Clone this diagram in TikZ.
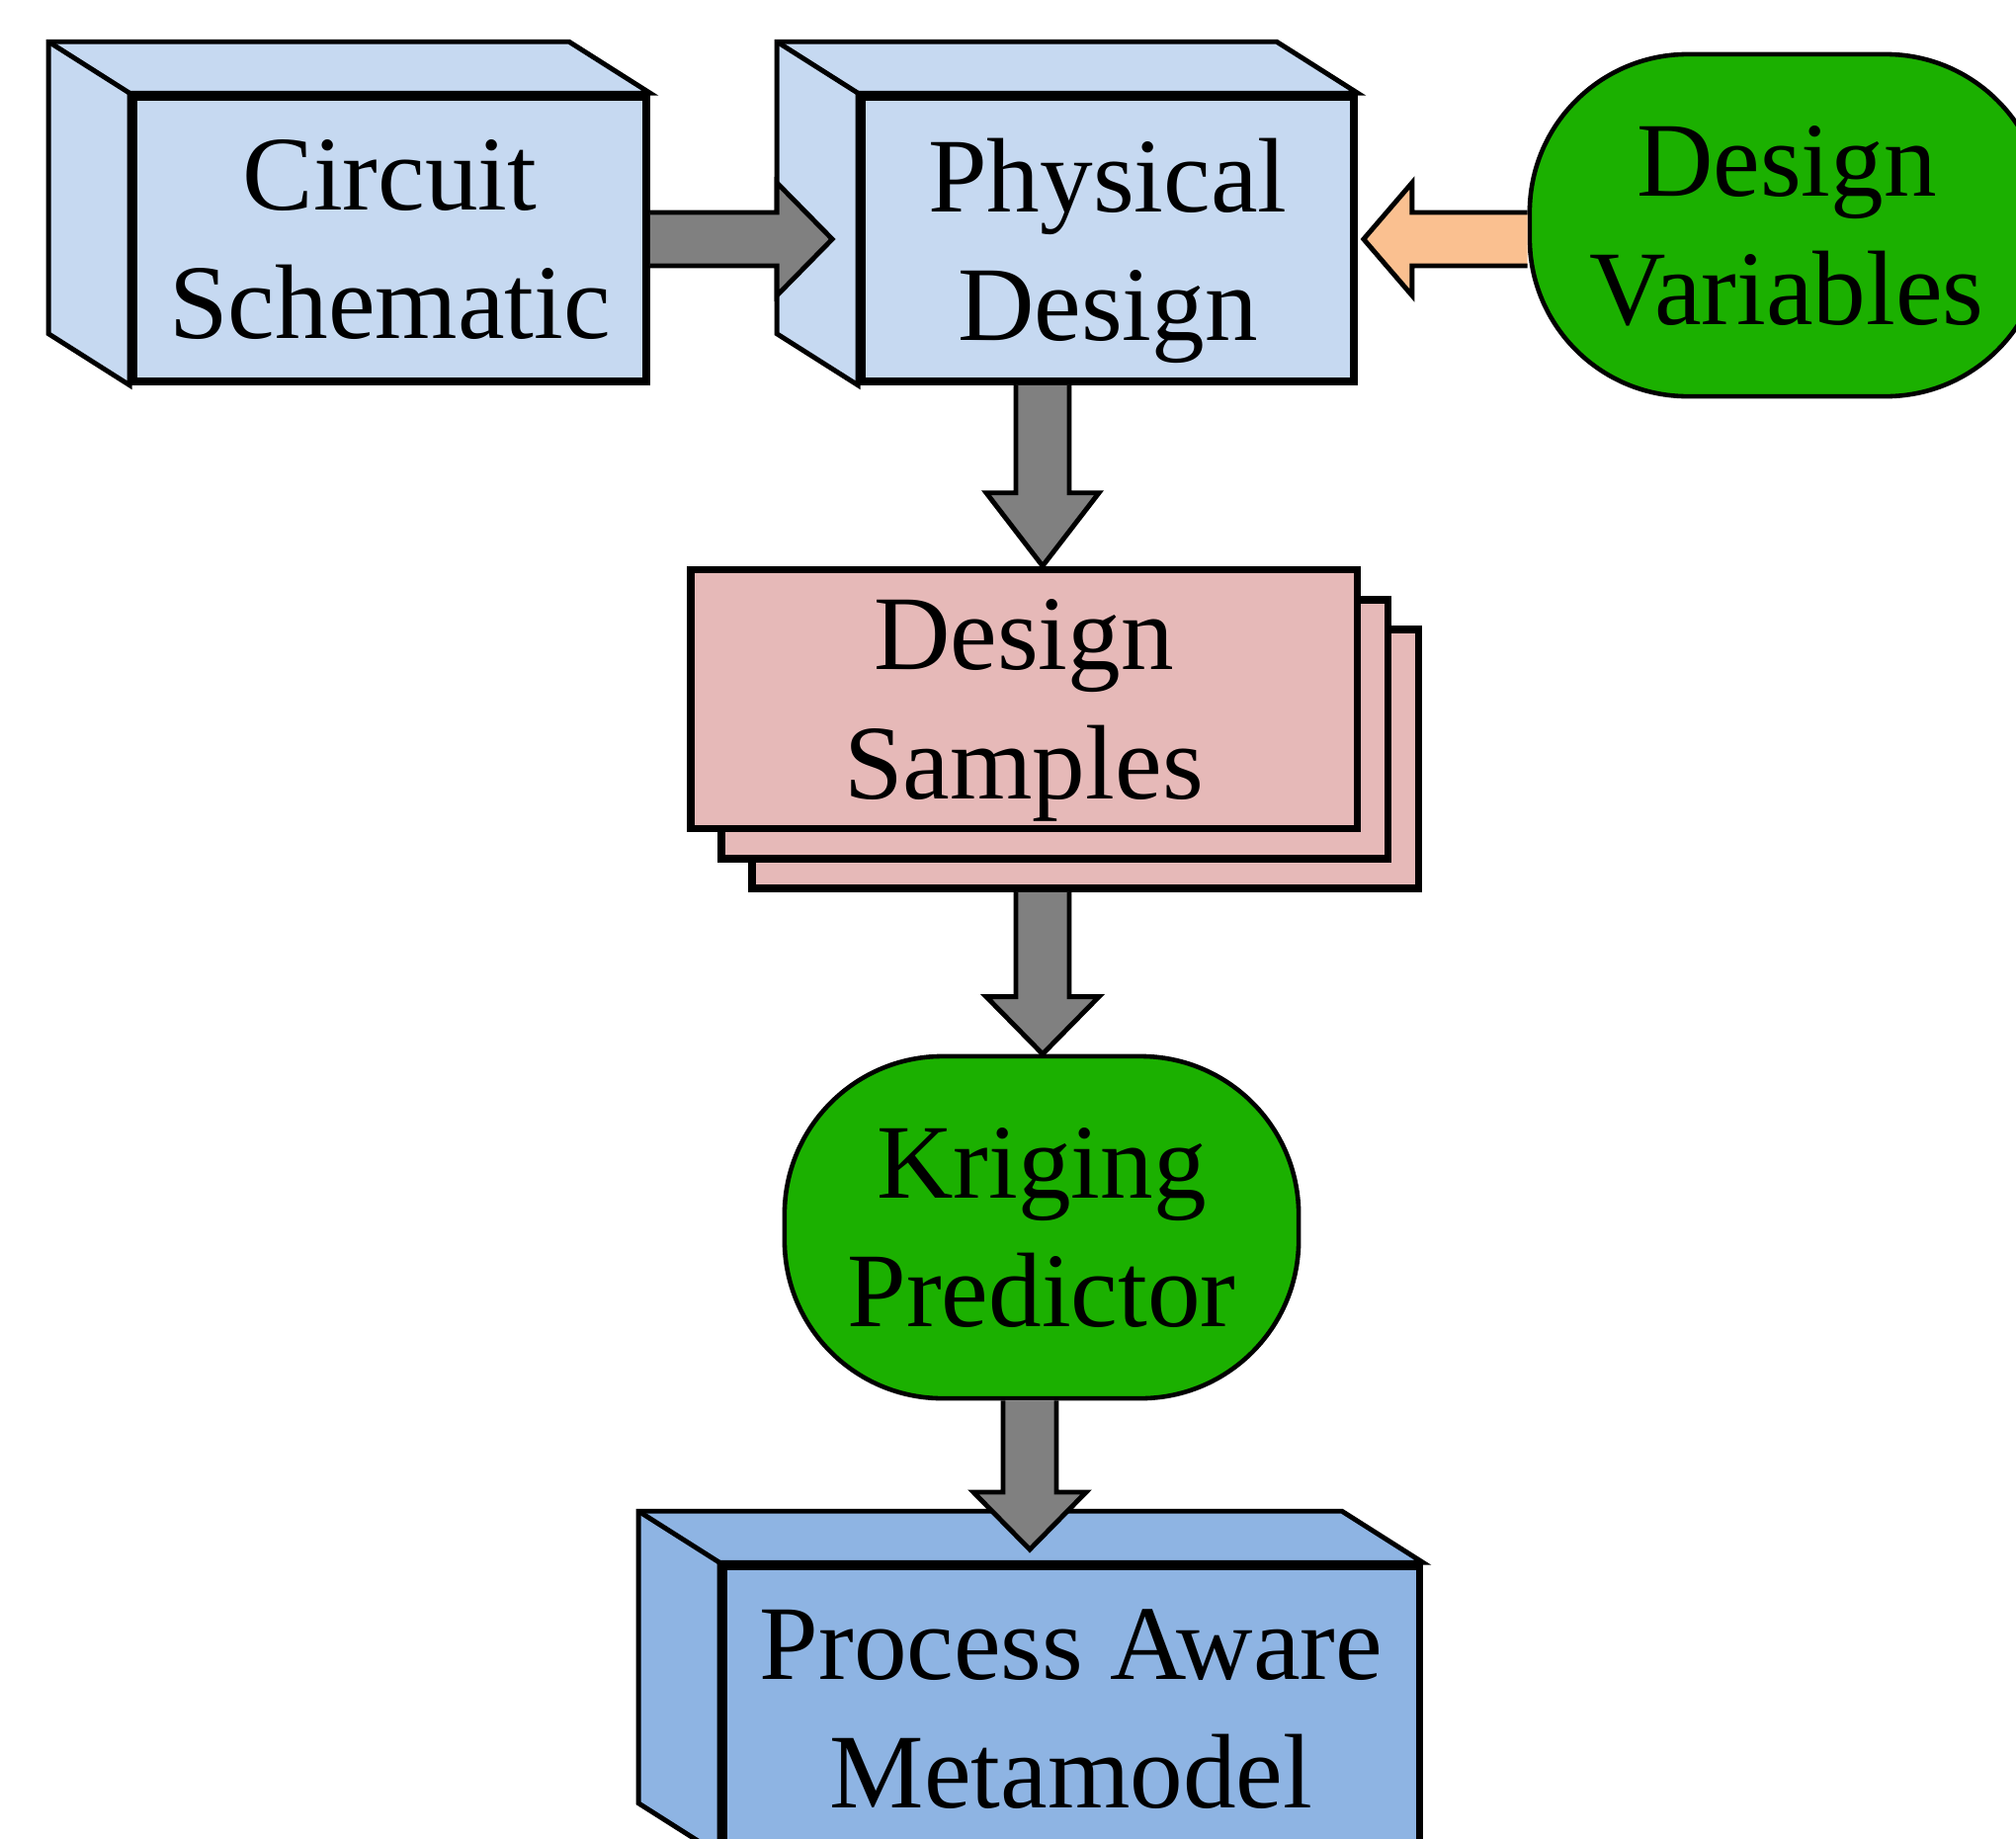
\documentclass[tikz,border=0pt]{standalone}
\usepackage{fontspec}
\setmainfont{Liberation Serif}
\usetikzlibrary{calc}
\pgfdeclarelayer{back}
\pgfsetlayers{back,main}

% side and top faces behind a front box
\newcommand\boxdepth[2]{%
  \begin{pgfonlayer}{back}
    \filldraw[depthline,fill=#2] (#1.south west) -- ++(-82,-52) -- ($(#1.north west)+(-82,-52)$) -- ($(#1.north east)+(-82,-52)$) -- (#1.north east) -- (#1.north west) -- cycle;
    \draw[depthline] (#1.north west) -- ++(-82,-52);
  \end{pgfonlayer}}
% block arrow pointing down: x centre, source, target, head length
\newcommand\downshaft[4]{%
  \draw[bigarrow] (#1-27,0 |- #2) -- ($(#1-27,0 |- #3)+(0,-#4)$) -- ++(-30,0) -- (#1,0 |- #3) -- ($(#1+57,0 |- #3)+(0,-#4)$) -- ++(-30,0) -- (#1+27,0 |- #2);}

\begin{document}
\begin{tikzpicture}[x=0.01cm,y=-0.01cm,
  txt/.style={align=center,font=\fontsize{30.5}{37}\selectfont,text depth=0pt,inner sep=0pt},
  boxface/.style={txt,draw,line width=2.1pt,minimum height=2.88cm},
  depthline/.style={line width=1.4pt,line join=miter},
  blob/.style={txt,draw,line width=1.3pt,fill=leaf,rounded corners=1.6cm,minimum width=5.2cm,minimum height=3.46cm},
  sheet/.style={txt,draw,line width=2.1pt,fill=rose,minimum width=6.74cm,minimum height=2.62cm},
  bigarrow/.style={draw,line width=1.4pt,line join=miter,fill=slate}]
\definecolor{pale}{HTML}{C6D9F1}
\definecolor{deep}{HTML}{8EB4E3}
\definecolor{rose}{HTML}{E6B9B8}
\definecolor{leaf}{HTML}{1BB000}
\definecolor{peach}{HTML}{FAC090}
\definecolor{slate}{HTML}{808080}
\useasboundingbox (0,0) rectangle (2040,1860);

% top row
\node[boxface,fill=pale,minimum width=5.19cm] (cs) at (394.5,242) {Circuit\\Schematic};
\boxdepth{cs}{pale}
\node[boxface,fill=pale,minimum width=4.98cm] (pd) at (1121,242) {Physical\\Design};
\boxdepth{pd}{pale}
\node[blob] (dv) at (1808,228) {Design\\Variables};

% stack of samples
\node[sheet] (ds3) at (1098,768) {};
\node[sheet] (ds2) at (1067,738) {};
\node[sheet] (ds) at (1036,707.5) {Design\\Samples};

\node[blob] (kp) at (1054,1242) {Kriging\\Predictor};
\node[boxface,fill=deep,minimum width=7.04cm] (mm) at (1084,1729) {Process Aware\\Metamodel};
\boxdepth{mm}{deep}
\coordinate (mmtip) at (1042,1568);

% arrows
\draw[bigarrow] ($(cs.east)+(0,-27)$) -- ($(pd.west)+(-82,-27)$) -- ++(0,-30) -- ($(pd.west)+(-26,0)$) -- ($(pd.west)+(-82,57)$) -- ++(0,-30) -- ($(cs.east)+(0,27)$);
\draw[bigarrow,fill=peach] ($(pd.east -| dv.west)+(0,-27)$) -- ($(pd.east)+(55,-27)$) -- ++(0,-30) -- ($(pd.east)+(6,0)$) -- ($(pd.east)+(55,57)$) -- ++(0,-30) -- ($(pd.east -| dv.west)+(0,27)$);
\downshaft{1055}{pd.south}{ds.north}{74}
\downshaft{1055}{ds3.south}{kp.north}{58}
\downshaft{1042}{kp.south}{mmtip}{58}
\end{tikzpicture}
\end{document}
